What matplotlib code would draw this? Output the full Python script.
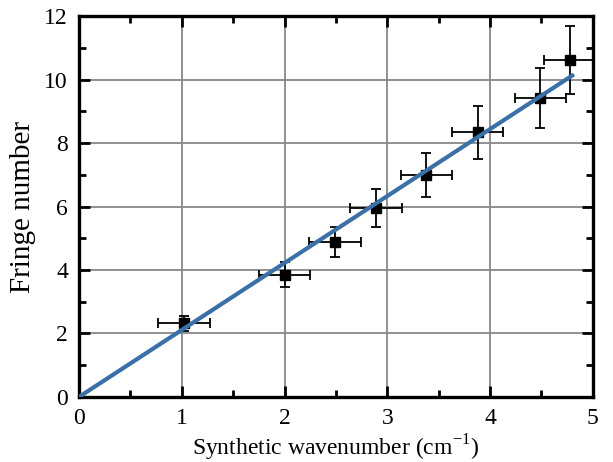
import numpy as np
import matplotlib.pyplot as plt
from matplotlib.ticker import MultipleLocator

# measured points
wavenumber = [1.02, 2.00, 2.49, 2.89, 3.38, 3.88, 4.49, 4.78]
fringe = [2.32, 3.85, 4.87, 5.95, 7.00, 8.34, 9.42, 10.62]
x_err = [0.25, 0.25, 0.25, 0.25, 0.25, 0.25, 0.25, 0.25]
y_err = [0.24, 0.39, 0.47, 0.60, 0.69, 0.83, 0.94, 1.06]

# linear fit through origin
fit_x = [0.0, 4.8]
slope = 2.11

plt.rcParams['font.family'] = ['Liberation Serif', 'DejaVu Serif']

fig = plt.figure(figsize=(6.13, 4.62), dpi=100)
ax = fig.add_axes([0.129, 0.141, 0.838, 0.824])

ax.grid(True, color='#888888', linewidth=1.3, zorder=0)
ax.errorbar(wavenumber, fringe, xerr=x_err, yerr=y_err, fmt='s', color='black',
            markersize=6.5, elinewidth=1.3, capsize=3.5, capthick=1.3, zorder=3)
ax.plot(fit_x, [slope * v for v in fit_x], color='#3a70aa', linewidth=3, zorder=4)

ax.set_xlim(0, 5)
ax.set_ylim(0, 12)
ax.xaxis.set_major_locator(MultipleLocator(1))
ax.xaxis.set_minor_locator(MultipleLocator(0.5))
ax.yaxis.set_major_locator(MultipleLocator(2))
ax.yaxis.set_minor_locator(MultipleLocator(1))
ax.tick_params(which='both', direction='in', top=True, right=True, labelsize=17, width=2)
ax.tick_params(which='major', length=8, pad=8)
ax.tick_params(which='minor', length=5)
for sp in ax.spines.values():
    sp.set_linewidth(2.4)

ax.set_xlabel('Synthetic wavenumber (cm$^{\\mathregular{-1}}$)', fontsize=17, labelpad=3)
ax.set_ylabel('Fringe number', fontsize=21, labelpad=6)

fig.savefig('out.png', dpi=100)
